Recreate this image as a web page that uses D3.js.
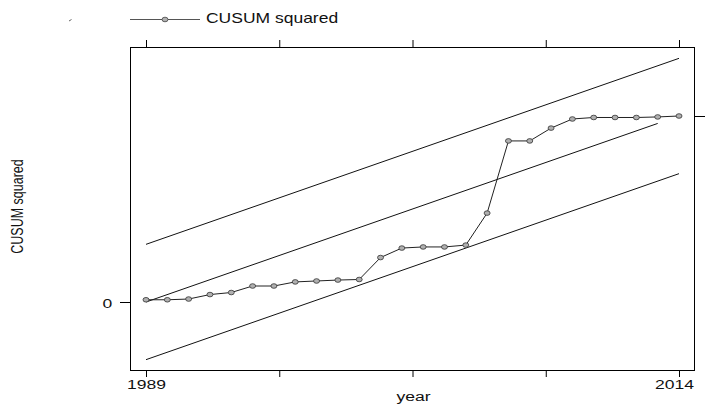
<!DOCTYPE html>
<html>
<head>
<meta charset="utf-8">
<script src="https://cdn.jsdelivr.net/npm/d3@7"></script>
<style>
  body { margin: 0; background: #fff; }
  svg { display: block; font-family: 'Liberation Sans', Arial, sans-serif; }
  .axis path { display: none; }
  .axis line { stroke: #000; }
  .axis text { font-size: 13.5px; fill: #111; }
</style>
</head>
<body>
<svg id="chart"></svg>
<script>
'use strict';

// observed CUSUM squared, one value per year
var years = [1989, 1990, 1991, 1992, 1993, 1994, 1995, 1996, 1997, 1998, 1999, 2000, 2001,
  2002, 2003, 2004, 2005, 2006, 2007, 2008, 2009, 2010, 2011, 2012, 2013, 2014]
var cusumSq = [0.012, 0.012, 0.016, 0.040, 0.051, 0.086, 0.086, 0.108, 0.113, 0.118, 0.121, 0.239, 0.290,
  0.296, 0.296, 0.306, 0.478, 0.866, 0.866, 0.935, 0.984, 0.992, 0.992, 0.992, 0.995, 1.0]

// straight reference lines, given by their end points
var centerYears = [1989, 2013]
var centerVals = [0, 0.96]
var boundYears = [1989, 2014]
var upperVals = [0.31, 1.31]
var lowerVals = [-0.31, 0.69]

var xTicks = [1989, 1995.25, 2001.5, 2007.75, 2014]
var xLabels = [1989, 2014]
var yLabels = [0]

var width = 709,
  height = 407,
  frame = { left: 130, right: 694, top: 47, bottom: 370 },
  stretch = 1.3  // text in the picture is widened horizontally

var svg = d3.select('#chart')
  .attr('width', width)
  .attr('height', height)

var x = d3.scaleLinear()
  .domain([1989, 2014])
  .range([146, 679])

var y = d3.scaleLinear()
  .domain([0, 1])
  .range([302, 116])

function fmtX(d) {
  return xLabels.indexOf(d) >= 0 ? d : ''
}
function fmtY(d) {
  return yLabels.indexOf(d) >= 0 ? d : ''
}

// axes on all four sides
var xAxisG = svg.append('g')
  .attr('class', 'axis')
  .attr('transform', 'translate(0,' + frame.bottom + ')')
  .call(d3.axisBottom(x).tickValues(xTicks).tickFormat(fmtX).tickSize(7).tickPadding(2))
xAxisG.selectAll('text')
  .attr('transform', function(d) {
    return d === 2014 ? 'translate(-5,0) scale(' + stretch + ',1)' : 'scale(' + stretch + ',1)'
  })

svg.append('g')
  .attr('class', 'axis')
  .attr('transform', 'translate(0,' + frame.top + ')')
  .call(d3.axisTop(x).tickValues(xTicks).tickFormat('').tickSize(7))

var yAxisG = svg.append('g')
  .attr('class', 'axis')
  .attr('transform', 'translate(' + frame.left + ',0)')
  .call(d3.axisLeft(y).tickValues([0]).tickFormat(fmtY).tickSize(10).tickPadding(8))
yAxisG.selectAll('text')
  .attr('x', null)
  .attr('text-anchor', 'middle')
  .attr('transform', 'translate(-22.6,1) scale(' + stretch + ',1)')

svg.append('g')
  .attr('class', 'axis')
  .attr('transform', 'translate(' + frame.right + ',0)')
  .call(d3.axisRight(y).tickValues([1]).tickFormat('').tickSize(11))

svg.append('rect')
  .attr('x', frame.left + 0.5)
  .attr('y', frame.top + 0.5)
  .attr('width', frame.right - frame.left)
  .attr('height', frame.bottom - frame.top)
  .attr('fill', 'none')
  .attr('stroke', '#000')

var line = d3.line()
  .x(function(d) { return x(d[0]) })
  .y(function(d) { return y(d[1]) })

function pairs(xs, vs) {
  return xs.map(function(v, i) { return [v, vs[i]] })
}

var refLines = [pairs(centerYears, centerVals), pairs(boundYears, upperVals), pairs(boundYears, lowerVals)]

svg.selectAll('path.ref')
  .data(refLines)
  .enter().append('path')
  .attr('class', 'ref')
  .attr('d', line)
  .attr('fill', 'none')
  .attr('stroke', '#111')
  .attr('stroke-width', 1)

var obs = pairs(years, cusumSq)

svg.append('path')
  .attr('d', line(obs))
  .attr('fill', 'none')
  .attr('stroke', '#222')
  .attr('stroke-width', 1)

svg.selectAll('ellipse.pt')
  .data(obs)
  .enter().append('ellipse')
  .attr('class', 'pt')
  .attr('cx', function(d) { return x(d[0]) })
  .attr('cy', function(d) { return y(d[1]) })
  .attr('rx', 3)
  .attr('ry', 2.3)
  .attr('fill', '#b0b0b0')
  .attr('stroke', '#333')
  .attr('stroke-width', 0.8)

// legend
svg.append('line')
  .attr('x1', 130).attr('x2', 200)
  .attr('y1', 19.5).attr('y2', 19.5)
  .attr('stroke', '#555')
svg.append('ellipse')
  .attr('cx', 165).attr('cy', 19.5).attr('rx', 3).attr('ry', 2.3)
  .attr('fill', '#b0b0b0').attr('stroke', '#444').attr('stroke-width', 0.8)
svg.append('text')
  .attr('transform', 'translate(206,23) scale(1.25,1)')
  .attr('font-size', 14)
  .attr('fill', '#111')
  .text('CUSUM squared')

// stray mark left of the legend
svg.append('line')
  .attr('x1', 69).attr('y1', 21).attr('x2', 71.5).attr('y2', 19.5)
  .attr('stroke', '#666')

// axis titles
svg.append('text')
  .attr('transform', 'translate(413.5,401) scale(' + stretch + ',1)')
  .attr('text-anchor', 'middle')
  .attr('font-size', 13.5)
  .attr('fill', '#111')
  .text('year')

svg.append('text')
  .attr('transform', 'translate(23,206.5) scale(' + stretch + ',1) rotate(-90)')
  .attr('text-anchor', 'middle')
  .attr('font-size', 12.5)
  .attr('fill', '#111')
  .text('CUSUM squared')
</script>
</body>
</html>
